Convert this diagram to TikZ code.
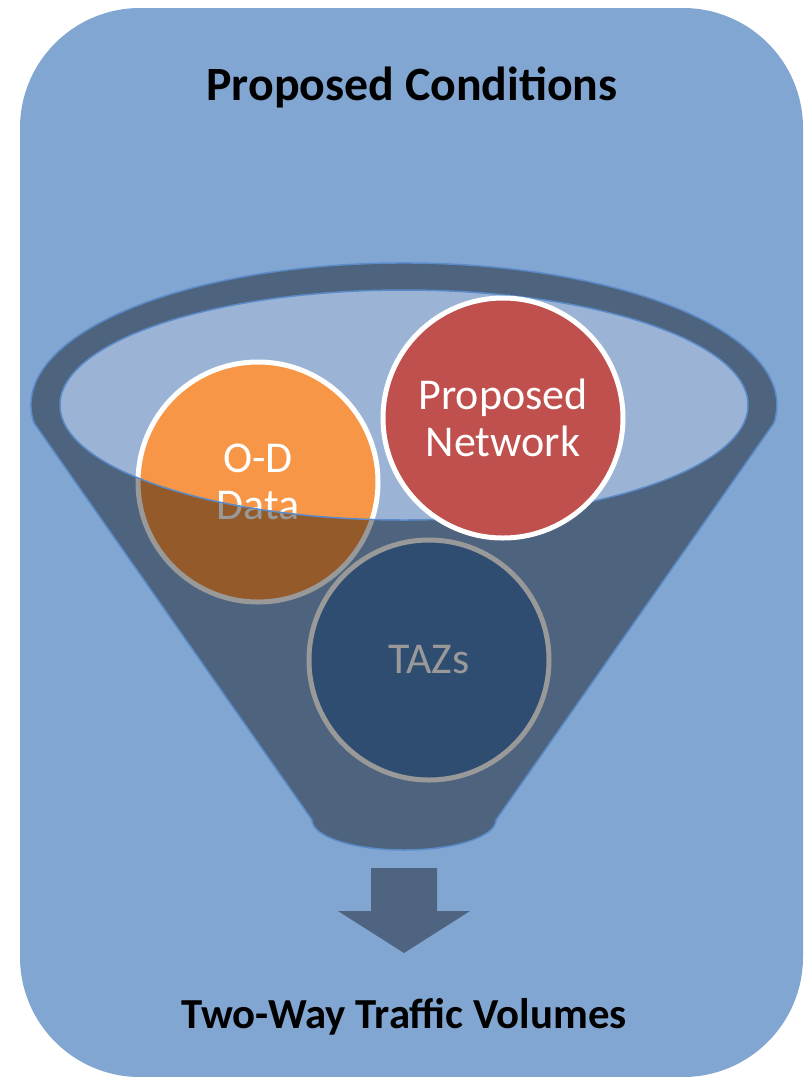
\documentclass[tikz,border=0pt]{standalone}
\usepackage{fontspec}
\setmainfont{Carlito}
\usepackage{tikz}
\usetikzlibrary{shadows}
\definecolor{fnBack}{HTML}{82A6D2}
\definecolor{fnMouth}{HTML}{9BB4D6}
\definecolor{fnEdge}{HTML}{5B8BC8}
\definecolor{fnData}{HTML}{F79646}
\definecolor{fnNet}{HTML}{C0504D}
\definecolor{fnZone}{HTML}{4F81BD}
\definecolor{fnShade}{HTML}{4F6480}
\tikzset{
  bubble/.style={
    circle, draw=white, line width=5pt, minimum size=240pt, inner sep=0pt,
    align=center, text=white, font=\fontsize{44}{47}\selectfont
  },
  heading/.style={font=\bfseries, anchor=base},
  funnelbody/.style={fill=black, fill opacity=0.4, draw=fnEdge, line width=1.5pt, even odd rule},
  outflow/.style={fill=fnShade}
}

\begin{document}
\begin{tikzpicture}[x=1pt, y=-1pt]
  \useasboundingbox (0,0) rectangle (808,1077);
  \fill[fnBack, rounded corners=120pt] (20,8) rectangle (803,1077);

  \node[heading] (title) at (412,100) {\fontsize{47.8}{50}\selectfont Proposed Conditions};
  \node[heading] (result) at (404,1028) {\fontsize{42.8}{46}\selectfont Two-Way Traffic Volumes};

  % mouth of the funnel
  \fill[fnMouth] (404,405) ellipse [x radius=344, y radius=115];

  % these two sit under the funnel and get shaded by it
  \node[bubble, fill=fnZone] (taz) at (429,660) {TAZs};
  \node[bubble, fill=fnData] (od) at (258,482) {O-D\\Data};

  \path[funnelbody] (34,423) arc[start angle=172.7, end angle=367.3, x radius=373, y radius=142]
    -- (496,820) arc[start angle=0, end angle=180, x radius=92, y radius=30] -- cycle
    (404,405) ellipse [x radius=344, y radius=115];

  \node[bubble, fill=fnNet, drop shadow={opacity=0.25, shadow xshift=1pt, shadow yshift=-2pt}] (net) at (503,418) {Proposed\\Network};

  % output arrow
  \fill[outflow] (371,868) -- (437,868) -- (437,911) -- (470,911) -- (404,953)
    -- (338,911) -- (371,911) -- cycle;
\end{tikzpicture}
\end{document}
